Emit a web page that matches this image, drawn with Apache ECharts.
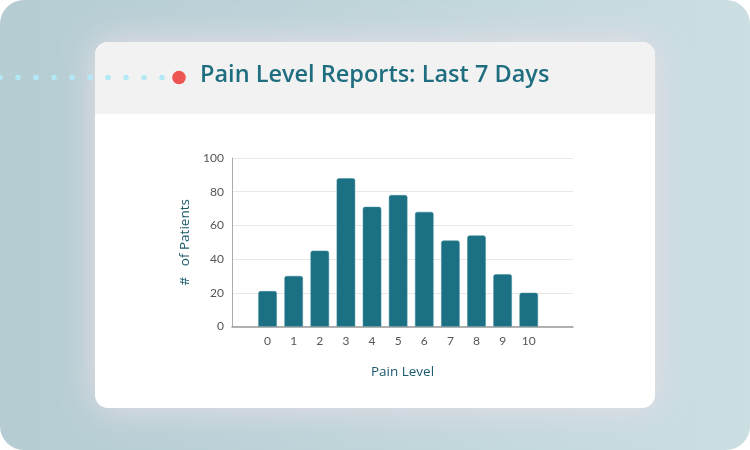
<!DOCTYPE html>
<html>
<head>
<meta charset="utf-8">
<script src="https://cdn.jsdelivr.net/npm/echarts@6/dist/echarts.min.js"></script>
<style>
  html, body { margin: 0; padding: 0; background: #ffffff; }
  #chart { width: 750px; height: 450px; }
</style>
</head>
<body>
<div id="chart"></div>
<script>
// ---- data ----
const titleText = 'Pain Level Reports: Last 7 Days';
const painLevels = ['0', '1', '2', '3', '4', '5', '6', '7', '8', '9', '10'];
const patientCounts = [21, 30, 45, 88, 71, 78, 68, 51, 54, 31, 20];
const yTicks = { min: 0, max: 100, interval: 20 };
const xAxisName = 'Pain Level';
const yAxisName = '#   of Patients';

// ---- decoration (background, card, dots) ----
const decoDotsX = [];
for (let x = 0; x <= 162; x += 18) decoDotsX.push(x);

const chart = echarts.init(document.getElementById('chart'), null, { renderer: 'canvas' });

const graphics = [
  {
    type: 'rect', z: -10, silent: true,
    shape: { x: 0, y: 0, width: 750, height: 450, r: 24 },
    style: {
      fill: new echarts.graphic.LinearGradient(0, 0, 1, 0, [
        { offset: 0, color: '#b4ccd2' },
        { offset: 1, color: '#cbdee2' }
      ])
    }
  },
  {
    type: 'rect', z: -9, silent: true,
    shape: { x: 95, y: 42, width: 560, height: 366, r: 13 },
    style: { fill: '#ffffff', shadowBlur: 36, shadowColor: 'rgba(236,222,232,0.95)' }
  },
  {
    type: 'rect', z: -8, silent: true,
    shape: { x: 95, y: 42, width: 560, height: 72, r: [13, 13, 0, 0] },
    style: { fill: '#f2f2f2' }
  }
];
decoDotsX.forEach(function (x) {
  graphics.push({
    type: 'circle', z: -7, silent: true,
    shape: { cx: x, cy: 77.5, r: 2.8 },
    style: { fill: '#b3e8f6' }
  });
});
graphics.push({
  type: 'circle', z: -7, silent: true,
  shape: { cx: 179, cy: 77.5, r: 6.8 },
  style: { fill: '#ee5550' }
});

const option = {
  animation: false,
  backgroundColor: '#ffffff',
  title: {
    text: titleText,
    left: 200,
    top: 63,
    padding: 0,
    textStyle: {
      fontFamily: 'Open Sans',
      fontWeight: 600,
      fontSize: 23.5,
      color: '#1f6e80'
    }
  },
  graphic: graphics,
  grid: [
    { left: 232, right: 177, top: 158, bottom: 123.5, containLabel: false },
    { left: 254.5, width: 287.3, top: 158, bottom: 123.5, containLabel: false }
  ],
  xAxis: [
    {
      gridIndex: 0, type: 'value', min: 0, max: 1,
      name: xAxisName, nameLocation: 'middle', nameGap: 39,
      nameTextStyle: { fontFamily: 'Open Sans', fontSize: 13.5, color: '#1a5a6c' },
      axisLine: { show: true, lineStyle: { color: '#999999', width: 1.5 } },
      axisTick: { show: false },
      axisLabel: { show: false },
      splitLine: { show: false }
    },
    {
      gridIndex: 1, type: 'category', data: painLevels,
      axisLine: { show: false },
      axisTick: { show: false },
      axisLabel: { margin: 9, fontFamily: 'Lato', fontSize: 12, color: '#555555' },
      splitLine: { show: false }
    }
  ],
  yAxis: [
    {
      gridIndex: 0, type: 'value',
      min: yTicks.min, max: yTicks.max, interval: yTicks.interval,
      name: yAxisName, nameLocation: 'middle', nameGap: 40, nameRotate: 90,
      nameTextStyle: { fontFamily: 'Open Sans', fontSize: 13.5, color: '#1a5a6c' },
      axisLine: { show: true, lineStyle: { color: '#aaaaaa', width: 1 } },
      axisTick: { show: false },
      axisLabel: { margin: 8, fontFamily: 'Lato', fontSize: 12, color: '#555555' },
      splitLine: { show: true, lineStyle: { color: '#e8e8e8', width: 1 } }
    },
    {
      gridIndex: 1, type: 'value',
      min: yTicks.min, max: yTicks.max, interval: yTicks.interval,
      show: false
    }
  ],
  series: [
    {
      type: 'bar',
      xAxisIndex: 1, yAxisIndex: 1,
      data: patientCounts,
      barWidth: 18.5,
      itemStyle: {
        color: '#1c7083',
        borderRadius: [2, 2, 0, 0],
        borderColor: '#3f8a9b',
        borderWidth: 0.5
      }
    }
  ]
};
chart.setOption(option);
</script>
</body>
</html>
